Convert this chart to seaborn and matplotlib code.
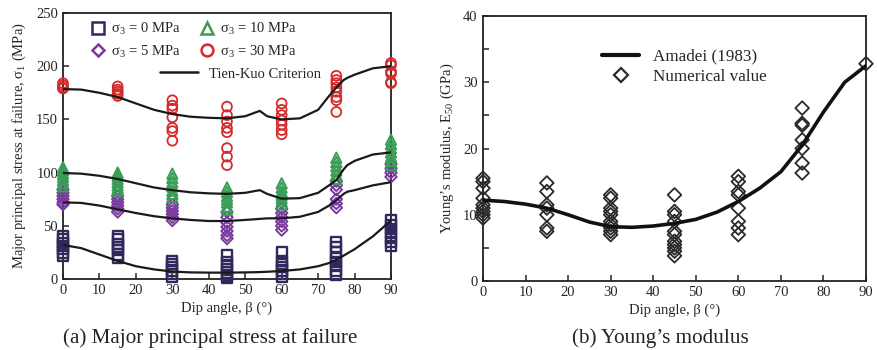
import numpy as np
import pandas as pd
import matplotlib
matplotlib.use("Agg")
import matplotlib.pyplot as plt
from matplotlib.lines import Line2D
import seaborn as sns

# ---------------- data: panel (a) ----------------
angles = [0, 15, 30, 45, 60, 75, 90]

s0_points = {
    0: [40, 37, 34, 31, 28, 25, 22],
    15: [40, 37, 33, 30, 27, 23, 20],
    30: [17, 14, 11, 8, 5, 2],
    45: [22, 16, 13, 9, 6, 3, 1],
    60: [25, 17, 14, 11, 8, 5, 2],
    75: [35, 30, 25, 20, 16, 12, 8, 4],
    90: [55, 51, 47, 43, 39, 35, 31],
}
s5_points = {
    0: [84, 81, 78, 75, 72, 70],
    15: [78, 75, 72, 69, 66, 63],
    30: [70, 67, 64, 61, 58, 55],
    45: [63, 58, 53, 49, 45, 41, 38],
    60: [66, 62, 58, 54, 50, 46],
    75: [92, 88, 84, 75, 71, 67],
    90: [108, 104, 100, 96],
}
s10_points = {
    0: [105, 102, 99, 96, 93, 90, 87],
    15: [100, 97, 94, 91, 88, 85, 83],
    30: [99, 95, 91, 87, 83, 80, 77],
    45: [86, 82, 78, 75, 72, 68, 65],
    60: [90, 86, 82, 79, 76, 73, 70],
    75: [114, 110, 106, 102, 98, 94],
    90: [131, 127, 123, 119, 115, 111, 107],
}
s30_points = {
    0: [184, 182, 180, 179],
    15: [181, 178, 176, 174, 172],
    30: [168, 163, 160, 152, 142, 139, 130],
    45: [162, 154, 148, 142, 138, 123, 115, 107],
    60: [165, 159, 154, 149, 145, 140, 136],
    75: [191, 187, 184, 180, 176, 171, 168, 157],
    90: [203, 201, 195, 193, 185, 184],
}

curve_angles = [0, 5, 10, 15, 20, 25, 30, 35, 40, 45, 50, 54, 56, 60, 65, 70, 73, 75, 77, 78, 80, 85, 90]
tk_s0 = [32, 29, 23, 17, 12, 9, 7, 6.2, 6, 6, 6.2, 6.5, 6.8, 7.5, 9, 12, 15, 18, 22, 24, 28, 40, 55]
tk_s5 = [72, 71.5, 69, 65.5, 62, 59, 57, 55.5, 54.5, 54.5, 55.5, 56.5, 57, 57, 58.5, 63, 69, 74, 80, 82, 83.5, 88, 91]
tk_s10 = [99.6, 99, 97, 94, 90, 86, 83.5, 81.5, 80.5, 80, 81, 83.5, 80, 75.5, 76, 81, 88, 93, 103, 107, 111, 117, 119]
tk_s30 = [178.5, 178, 175, 171, 165, 159, 155, 152.5, 151.5, 151, 153, 158, 153, 150, 151, 159, 172, 180, 187, 189, 192, 198, 200]

# ---------------- data: panel (b) ----------------
e50_points = {
    0: [15.5, 15.0, 14.0, 12.5, 11.5, 11.0, 10.5, 10.0, 9.5],
    15: [14.8, 13.5, 11.5, 11.0, 10.0, 8.0, 7.5],
    30: [13.0, 12.5, 11.0, 10.5, 10.0, 9.0, 8.5, 8.0, 7.5, 7.0],
    45: [13.0, 10.5, 10.0, 9.0, 7.5, 7.0, 6.0, 5.5, 5.0, 4.5, 3.8],
    60: [15.8, 15.0, 13.5, 13.0, 11.0, 9.0, 8.0, 7.0],
    75: [26.1, 23.8, 23.5, 21.3, 20.0, 17.8, 16.3],
    90: [32.8],
}
amadei_angles = [0, 5, 10, 15, 20, 25, 30, 35, 40, 45, 50, 55, 60, 65, 70, 75, 80, 85, 90]
amadei_e50 = [12.2, 12.0, 11.6, 11.0, 10.0, 8.9, 8.2, 8.1, 8.3, 8.7, 9.3, 10.4, 12.0, 14.0, 16.5, 20.5, 25.5, 30.0, 32.5]

labels_a = ["\u03c3$_3$ = 0 MPa", "\u03c3$_3$ = 5 MPa", "\u03c3$_3$ = 10 MPa", "\u03c3$_3$ = 30 MPa"]
line_label_a = "Tien-Kuo Criterion"
labels_b = ["Amadei (1983)", "Numerical value"]
caption_a = "(a) Major principal stress at failure"
caption_b = "(b) Young\u2019s modulus"


def to_df(d):
    rows = [(a, v) for a, vals in d.items() for v in vals]
    return pd.DataFrame(rows, columns=["angle", "value"])


# ---------------- style ----------------
sns.set_theme(style="ticks")
plt.rcParams["font.family"] = ["Liberation Serif", "DejaVu Serif"]
plt.rcParams["mathtext.fontset"] = "custom"
plt.rcParams["mathtext.rm"] = "Liberation Serif"
plt.rcParams["mathtext.it"] = "Liberation Serif"
plt.rcParams["mathtext.default"] = "regular"
plt.rcParams["xtick.direction"] = "in"
plt.rcParams["ytick.direction"] = "in"
plt.rcParams["axes.linewidth"] = 1.3

W, H = 877, 350
fig = plt.figure(figsize=(W / 100, H / 100), dpi=100)
fig.patch.set_facecolor("white")


def box(l, t, r, b):
    return [l / W, 1 - b / H, (r - l) / W, (b - t) / H]


ax1 = fig.add_axes(box(63, 13, 391, 279))
ax2 = fig.add_axes(box(483, 16, 866, 281))

colors = {"s0": "#33285e", "s5": "#7b3a9e", "s10": "#3a9d57", "s30": "#d42a2c"}
specs = [
    (s0_points, "s", colors["s0"], 55, 1.7),
    (s5_points, "D", colors["s5"], 34, 1.4),
    (s10_points, "^", colors["s10"], 55, 1.4),
    (s30_points, "o", colors["s30"], 50, 1.3),
]
for pts, mk, col, sz, lw in specs:
    df = to_df(pts)
    sns.scatterplot(data=df, x="angle", y="value", ax=ax1, marker=mk, s=sz,
                    facecolors="none", edgecolor=col, linewidth=lw, zorder=3, clip_on=False)

for tk in [tk_s0, tk_s5, tk_s10, tk_s30]:
    sns.lineplot(x=curve_angles, y=tk, ax=ax1, color="#1a1a1a", linewidth=1.6, zorder=4)

ax1.set_xlim(0, 90)
ax1.set_ylim(0, 250)
ax1.set_xticks(range(0, 91, 10))
ax1.set_yticks(range(0, 251, 50))
ax1.set_xlabel("Dip angle, \u03b2 (\u00b0)", fontsize=10.5, labelpad=3)
ax1.set_ylabel("Major principal stress at failure, \u03c3$_1$ (MPa)", fontsize=10.5, labelpad=6)
ax1.tick_params(labelsize=10.5, length=4, width=1.1, top=False, right=False)
for sp in ax1.spines.values():
    sp.set_visible(True)
    sp.set_color("#222222")

handles_a = [
    Line2D([], [], marker="s", linestyle="none", markersize=8, markerfacecolor="none",
           markeredgecolor=colors["s0"], markeredgewidth=1.8),
    Line2D([], [], marker="D", linestyle="none", markersize=6.5, markerfacecolor="none",
           markeredgecolor=colors["s5"], markeredgewidth=1.8),
    Line2D([], [], marker="^", linestyle="none", markersize=9, markerfacecolor="none",
           markeredgecolor=colors["s10"], markeredgewidth=1.8),
    Line2D([], [], marker="o", linestyle="none", markersize=8.5, markerfacecolor="none",
           markeredgecolor=colors["s30"], markeredgewidth=1.8),
]
leg1 = ax1.legend(handles_a, labels_a, ncol=2, frameon=False, loc="upper left",
                  bbox_to_anchor=(0.04, 1.02), fontsize=10.5, handletextpad=0.3,
                  columnspacing=1.2, labelspacing=0.45, handlelength=1.2)
ax1.add_artist(leg1)
ax1.legend([Line2D([], [], color="#1a1a1a", linewidth=1.8)], [line_label_a], frameon=False,
           loc="upper left", bbox_to_anchor=(0.255, 0.845), fontsize=10.5,
           handlelength=2.6, handletextpad=0.8)

# ---------------- panel (b) ----------------
dfb = to_df(e50_points)
sns.scatterplot(data=dfb, x="angle", y="value", ax=ax2, marker="D", s=48,
                facecolors="none", edgecolor="#2a2a2a", linewidth=1.3, zorder=3, clip_on=False)
sns.lineplot(x=amadei_angles, y=amadei_e50, ax=ax2, color="#111111", linewidth=2.6, zorder=4)
ax2.set_xlim(0, 90)
ax2.set_ylim(0, 40)
ax2.set_xticks(range(0, 91, 10))
ax2.set_yticks(range(0, 41, 10))
ax2.set_yticks(range(5, 40, 10), minor=True)
ax2.set_xlabel("Dip angle, \u03b2 (\u00b0)", fontsize=10.5, labelpad=3)
ax2.set_ylabel("Young\u2019s modulus, E$_{50}$ (GPa)", fontsize=10.5, labelpad=5)
ax2.tick_params(which="both", labelsize=10.5, length=4, width=1.1, top=False, right=False)
ax2.tick_params(axis="y", pad=4)
for sp in ax2.spines.values():
    sp.set_visible(True)
    sp.set_color("#222222")

handles_b = [
    Line2D([], [], color="#111111", linewidth=3),
    Line2D([], [], marker="D", linestyle="none", markersize=7.5, markerfacecolor="none",
           markeredgecolor="#2a2a2a", markeredgewidth=1.6),
]
ax2.legend(handles_b, labels_b, frameon=False, loc="upper left", bbox_to_anchor=(0.27, 0.935),
           fontsize=12.3, handlelength=2.2, handletextpad=0.8, labelspacing=0.25)

fig.text(210 / W, 1 - 338 / H, caption_a, ha="center", va="center", fontsize=15.2)
fig.text(660 / W, 1 - 338 / H, caption_b, ha="center", va="center", fontsize=15.2)

fig.savefig("out.png", dpi=100)
